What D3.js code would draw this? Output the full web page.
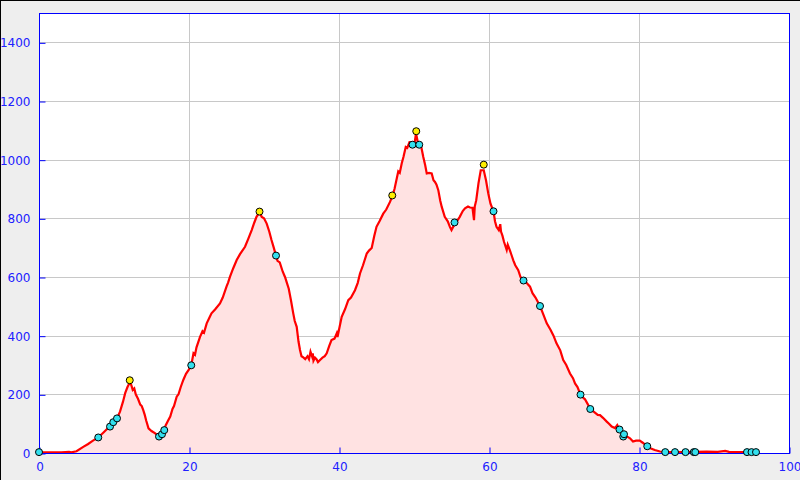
<!DOCTYPE html>
<html>
<head>
<meta charset="utf-8">
<script src="https://cdn.jsdelivr.net/npm/d3@7"></script>
<style>
html,body{margin:0;padding:0;background:#eeeeee;}
svg{display:block;}
</style>
</head>
<body>
<script>
// Elevation profile: distance (km) and elevation (m)
const distance = [0.0,0.5,1.5,3.0,4.0,4.3,5.0,5.9,6.5,7.2,7.9,8.6,9.2,9.6,10.0,10.4,10.8,11.2,11.5,11.8,12.1,12.3,12.5,12.7,12.9,13.2,13.5,13.7,13.9,14.1,14.3,14.6,15.0,15.5,15.8,16.0,16.3,16.6,16.9,17.2,17.5,17.8,18.0,18.36,18.6,18.9,19.24,19.6,20.0,20.3,20.6,20.8,21.0,21.47,21.8,22.0,22.36,22.7,23.0,23.5,24.13,24.5,25.0,25.2,25.47,25.9,26.36,26.8,27.47,27.9,28.36,28.7,29.0,29.4,29.7,30.0,30.36,30.7,31.0,31.3,31.6,31.8,32.1,32.5,32.8,33.0,33.3,33.6,33.9,34.1,34.36,34.6,34.8,35.0,35.24,35.5,35.8,36.0,36.2,36.4,36.5,36.6,36.8,37.0,37.2,37.47,37.8,38.1,38.36,38.7,39.0,39.4,39.7,39.8,40.0,40.36,40.8,41.24,41.6,42.13,42.5,42.8,43.2,43.7,44.0,44.36,44.7,45.0,45.4,45.9,46.3,46.8,47.1,47.4,47.7,47.9,48.1,48.36,48.6,48.9,49.1,49.4,49.8,50.1,50.27,50.5,50.8,51.0,51.24,51.5,51.7,52.0,52.36,52.6,52.8,53.0,53.24,53.5,53.7,54.1,54.5,54.8,55.0,55.3,55.6,56.1,56.5,56.8,57.2,57.47,57.8,58.0,58.1,58.3,58.6,58.9,59.3,59.6,59.9,60.2,60.6,60.8,61.0,61.3,61.5,61.6,61.8,62.0,62.36,62.5,62.8,63.0,63.24,63.5,63.9,64.2,64.6,65.0,65.47,65.8,66.2,66.8,67.2,67.7,68.2,68.6,69.0,69.5,69.9,70.3,70.8,71.2,71.47,71.8,72.2,72.5,72.8,73.2,73.5,74.0,74.5,74.8,75.2,75.7,76.0,76.36,76.8,77.1,77.4,77.9,78.2,78.5,78.8,79.2,79.6,80.1,80.5,81.1,81.6,82.1,82.8,83.5,85.0,87.5,89.0,90.5,91.5,92.0,93.5,95.6];
const elevation = [5,3,2,2,4,2,6,21,30,42,53,70,85,95,105,118,141,175,205,225,240,232,215,220,200,185,165,160,146,130,110,84,75,67,60,56,62,75,95,110,124,150,160,192,200,225,249,270,285,299,340,335,360,396,415,410,442,460,476,490,510,530,567,580,601,630,658,678,703,730,760,785,805,820,805,800,782,755,726,700,673,655,650,618,600,584,560,520,476,450,430,380,351,330,326,320,330,320,345,330,340,315,325,320,310,317,325,330,340,365,385,390,408,395,420,464,490,521,530,555,580,612,640,680,690,699,740,771,790,816,830,856,875,900,936,960,955,987,1010,1043,1040,1060,1060,1060,1090,1060,1055,1040,1009,980,953,955,953,930,924,915,896,860,839,805,790,770,760,775,785,805,825,834,840,837,836,794,840,862,920,964,964,930,885,850,824,790,771,760,780,755,740,720,692,710,690,675,657,640,623,600,588,580,567,545,530,501,475,442,420,400,374,350,317,300,271,255,237,225,199,190,183,165,150,140,130,129,120,107,100,90,85,95,80,60,58,55,50,39,42,42,35,23,15,10,5,3,3,4,5,4,7,4,3,3];

// Waypoint markers
const cyanX = [0,7.9,9.47,9.9,10.4,16.0,16.4,16.7,20.3,31.6,49.8,50.7,55.4,60.6,64.6,66.8,72.2,73.5,77.4,77.9,78.0,81.1,83.5,84.8,86.2,87.3,87.5,94.4,95.0,95.6];
const cyanY = [3,53,90,105,118,56,64,78,299,673,1051,1051,786,824,588,501,199,150,80,56,64,23,3,3,3,3,3,3,3,3];
const yellowX = [12.1,29.4,47.1,50.3,59.3];
const yellowY = [248,823,878,1097,983];

const xTicks = [0,20,40,60,80,100];
const yTicks = [0,200,400,600,800,1000,1200,1400];

const W = 800, H = 480;
const m = {left:39, right:11, top:13, bottom:27};
const svg = d3.select("body").append("svg").attr("width",W).attr("height",H);
svg.append("rect").attr("width",W).attr("height",H).attr("fill","#eeeeee");
svg.append("line").attr("x1",0).attr("y1",0.5).attr("x2",W).attr("y2",0.5).attr("stroke","#000");
svg.append("line").attr("x1",0.5).attr("y1",0).attr("x2",0.5).attr("y2",H).attr("stroke","#000");

const x = d3.scaleLinear().domain([0,100]).range([m.left, W-m.right]);
const y = d3.scaleLinear().domain([0,1500]).range([H-m.bottom, m.top]);

const g = svg.append("g");
g.append("rect").attr("x",x(0)).attr("y",y(1500)).attr("width",x(100)-x(0)).attr("height",y(0)-y(1500)).attr("fill","#fff");

// grid
g.selectAll(".gy").data(yTicks.filter(d=>d>0)).enter().append("line")
  .attr("x1",x(0)).attr("x2",x(100)).attr("y1",d=>Math.round(y(d))+0.5).attr("y2",d=>Math.round(y(d))+0.5)
  .attr("stroke","#c8c8c8");
g.selectAll(".gx").data(xTicks.filter(d=>d>0&&d<100)).enter().append("line")
  .attr("y1",y(0)).attr("y2",y(1500)).attr("x1",d=>Math.round(x(d))+0.5).attr("x2",d=>Math.round(x(d))+0.5)
  .attr("stroke","#c8c8c8");

const pts = distance.map((d,i)=>[d,elevation[i]]);
g.append("path").datum(pts)
  .attr("d", d3.area().x(d=>x(d[0])).y0(y(0)).y1(d=>y(d[1])))
  .attr("fill","#ffe2e2");
g.append("path").datum(pts)
  .attr("d", d3.line().x(d=>x(d[0])).y(d=>y(d[1])))
  .attr("fill","none").attr("stroke","#ff0000").attr("stroke-width",2.2).attr("stroke-linejoin","miter");

// frame
g.append("rect").attr("x",x(0)+0.5).attr("y",y(1500)+0.5).attr("width",x(100)-x(0)).attr("height",y(0)-y(1500))
  .attr("fill","none").attr("stroke","#0000ff");

const axisColor = "#0000ff", labelColor = "#2020ff";
const yAxis = g.append("g").attr("transform",`translate(${x(0)+0.5},0.5)`)
  .call(d3.axisRight(y).tickValues(yTicks).tickSize(6).tickFormat(d3.format("d")));
yAxis.select(".domain").remove();
yAxis.selectAll(".tick line").attr("stroke",axisColor);
yAxis.selectAll(".tick text").attr("x",-9).attr("text-anchor","end").attr("fill",labelColor)
  .style("font-family","DejaVu Sans").style("font-size","12px");

const xAxis = g.append("g").attr("transform",`translate(0.5,${y(0)+0.5})`)
  .call(d3.axisTop(x).tickValues(xTicks).tickSize(6).tickFormat(d3.format("d")));
xAxis.select(".domain").remove();
xAxis.selectAll(".tick line").attr("stroke",axisColor);
xAxis.selectAll(".tick text").attr("y",9).attr("dy","0.71em").attr("fill",labelColor)
  .style("font-family","DejaVu Sans").style("font-size","12px");

// markers
g.selectAll(".cy").data(cyanX).enter().append("circle")
  .attr("cx",(d)=>x(d)).attr("cy",(d,i)=>y(cyanY[i])).attr("r",3.5)
  .attr("fill","#33e0ee").attr("stroke","#000").attr("stroke-width",1);
g.selectAll(".ye").data(yellowX).enter().append("circle")
  .attr("cx",(d)=>x(d)).attr("cy",(d,i)=>y(yellowY[i])).attr("r",3.5)
  .attr("fill","#ffee00").attr("stroke","#000").attr("stroke-width",1);
</script>
</body>
</html>
